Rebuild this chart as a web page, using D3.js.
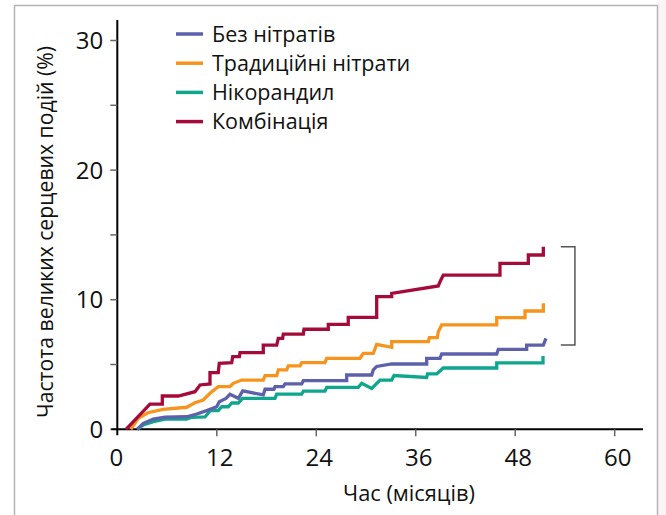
<!DOCTYPE html>
<html>
<head>
<meta charset="utf-8">
<script src="https://cdn.jsdelivr.net/npm/d3@7"></script>
<style>
  body { margin: 0; background: #fff; }
  svg { display: block; font-family: "Open Sans", "Noto Sans", sans-serif; }
</style>
</head>
<body>
<svg></svg>
<script>
// Series names and colours
const seriesNames = ["Без нітратів", "Традиційні нітрати", "Нікорандил", "Комбінація"];
const seriesColors = ["#5d60ab", "#f7941d", "#0ea68c", "#a50b3a"];

// [months, %]
const noNitrates = [[2.41,0],[3.14,0.46],[4.34,0.79],[5.75,0.93],[8.37,0.97],[9.58,1.18],[10.78,1.44],[11.99,1.74],[12.3,2.13],[13.11,2.38],[13.59,2.7],[14.6,2.39],[15.13,2.96],[17.61,2.65],[17.82,3.09],[18.9,3.09],[19.03,3.29],[20.02,3.29],[20.23,3.5],[22.24,3.5],[22.44,3.75],[27.67,3.75],[27.67,4.19],[30.69,4.19],[30.88,4.58],[31.29,4.85],[33.1,5.04],[37.32,5.04],[37.32,5.48],[38.93,5.48],[39.13,5.81],[45.77,5.81],[45.96,6.17],[49.38,6.17],[49.38,6.5],[51.39,6.5],[51.71,7.02]];
const traditional = [[1.62,0],[2.53,0.85],[3.7,1.28],[5.51,1.54],[8.37,1.7],[9.37,2.05],[10.37,2.26],[11.18,2.78],[12.18,3.29],[13.59,3.29],[13.99,3.55],[15.01,3.8],[17.61,3.8],[17.82,4.14],[19.23,4.14],[19.42,4.58],[20.43,4.58],[20.63,4.89],[22.04,4.89],[22.24,5.14],[25.05,5.14],[25.26,5.48],[29.28,5.48],[29.67,5.86],[30.88,5.86],[31.29,6.56],[33.1,6.33],[33.1,6.76],[37.52,6.76],[37.64,7.07],[38.6,7.07],[38.72,7.53],[39.13,8.05],[45.77,8.05],[45.77,8.61],[49.18,8.61],[49.18,9.13],[51.39,9.13],[51.39,9.72]];
const nicorandil = [[2.41,0],[3.14,0.33],[4.34,0.59],[5.75,0.79],[8.37,0.79],[8.97,0.93],[10.58,0.95],[11.24,1.45],[12.18,1.45],[12.59,1.74],[13.39,1.74],[13.8,2.03],[14.6,2.03],[15.1,2.38],[19.02,2.38],[19.23,2.71],[22.24,2.71],[22.44,2.94],[25.05,2.94],[25.26,3.24],[29.07,3.24],[29.48,3.55],[30.69,3.15],[31.69,3.8],[33.1,3.8],[33.38,4.15],[37.32,4.0],[37.42,4.27],[38.53,4.27],[39.32,4.73],[45.77,4.73],[45.77,5.12],[51.35,5.12],[51.35,5.66]];
const combination = [[1.05,0],[3.94,1.95],[5.43,1.95],[5.43,2.57],[7.36,2.57],[9.37,2.9],[9.98,3.42],[11.18,3.5],[11.18,4.37],[12.18,4.37],[12.3,5.09],[13.8,5.14],[13.92,5.6],[14.72,5.6],[14.8,5.91],[17.61,5.91],[17.61,6.5],[19.23,6.5],[19.42,7.02],[19.95,7.02],[20.02,7.35],[22.44,7.35],[22.52,7.72],[25.45,7.72],[25.45,8.1],[27.86,8.1],[27.86,8.64],[31.29,8.64],[31.29,10.23],[33.1,10.23],[33.1,10.49],[38.72,11.06],[38.93,11.39],[39.32,11.9],[46.16,11.9],[46.16,12.81],[49.58,12.81],[49.58,13.45],[51.39,13.45],[51.39,14.09]];

const xTicks = [0, 12, 24, 36, 48, 60];
const yTicks = [0, 10, 20, 30];
const yMinorTicks = [5, 15, 25];
const bracketRange = [6.5, 14.09];

const width = 666, height = 515;
const svg = d3.select("svg").attr("width", width).attr("height", height);

// frame
svg.append("rect").attr("x", 658).attr("y", 0).attr("width", 8).attr("height", height).attr("fill", "#fbf4f4");
svg.append("path")
  .attr("d", `M14.5,${height} V5.5 H657.5 V${height}`)
  .attr("fill", "none").attr("stroke", "#b5b5b5").attr("stroke-width", 1.5);

const x = d3.scaleLinear().domain([0, 60]).range([117.3, 614.7]);
const y = d3.scaleLinear().domain([0, 30]).range([429.3, 40.5]);

// y axis
const yAxis = svg.append("g").attr("transform", `translate(${x(0)},0)`);
yAxis.append("line").attr("y1", 20).attr("y2", y(0) + 6).attr("stroke", "#000").attr("stroke-width", 2);
yAxis.selectAll(".tk").data(yTicks.concat(yMinorTicks)).join("line")
  .attr("x1", -7).attr("x2", 0).attr("y1", d => y(d)).attr("y2", d => y(d))
  .attr("stroke", "#666").attr("stroke-width", 1.5);
yAxis.selectAll("text").data(yTicks).join("text")
  .attr("x", -14).attr("y", d => y(d)).attr("dy", "0.35em")
  .attr("text-anchor", "end").style("font-size", "24px").attr("fill", "#111")
  .text(d => d);

// x axis
const xAxis = svg.append("g").attr("transform", `translate(0,${y(0)})`);
xAxis.append("line").attr("x1", x(0) - 6).attr("x2", 643).attr("stroke", "#000").attr("stroke-width", 2);
xAxis.selectAll(".tk").data(xTicks.slice(1)).join("line")
  .attr("x1", d => x(d)).attr("x2", d => x(d)).attr("y1", 0).attr("y2", 7)
  .attr("stroke", "#666").attr("stroke-width", 1.5);
xAxis.selectAll("text").data(xTicks).join("text")
  .attr("x", d => x(d) + (d === 0 ? -1 : 3)).attr("y", 37)
  .attr("text-anchor", "middle").style("font-size", "24px").attr("fill", "#111")
  .text(d => d);

// axis titles
svg.append("text")
  .attr("x", 409).attr("y", 501).attr("text-anchor", "middle")
  .attr("textLength", 132).attr("lengthAdjust", "spacingAndGlyphs")
  .style("font-size", "21px").attr("fill", "#111")
  .text("Час (місяців)");
svg.append("text")
  .attr("transform", "translate(53,232) rotate(-90)")
  .attr("text-anchor", "middle")
  .attr("textLength", 372).attr("lengthAdjust", "spacingAndGlyphs")
  .style("font-size", "21px").attr("fill", "#111")
  .text("Частота великих серцевих подій (%)");

// curves
const line = d3.line().x(d => x(d[0])).y(d => y(d[1]));
const allSeries = [noNitrates, traditional, nicorandil, combination];
const drawOrder = [2, 0, 1, 3];
svg.append("g").selectAll("path").data(drawOrder).join("path")
  .attr("d", i => line(allSeries[i]))
  .attr("fill", "none")
  .attr("stroke", i => seriesColors[i])
  .attr("stroke-width", 3.3)
  .attr("stroke-linejoin", "miter");

// bracket
const bx0 = x(53.5), bx1 = x(55.2);
svg.append("path")
  .attr("d", `M${bx0},${y(bracketRange[1])} H${bx1} V${y(bracketRange[0])} H${bx0}`)
  .attr("fill", "none").attr("stroke", "#555").attr("stroke-width", 1.5);

// legend
const legend = svg.append("g").selectAll("g").data(seriesNames).join("g")
  .attr("transform", (d, i) => `translate(176,${34 + i * 29.2})`);
legend.append("line").attr("x1", 0).attr("x2", 27)
  .attr("stroke", (d, i) => seriesColors[i]).attr("stroke-width", 3.5);
legend.append("text")
  .attr("x", 36).attr("dy", "0.35em")
  .style("font-size", "21.5px").attr("fill", "#111")
  .text(d => d);
</script>
</body>
</html>
